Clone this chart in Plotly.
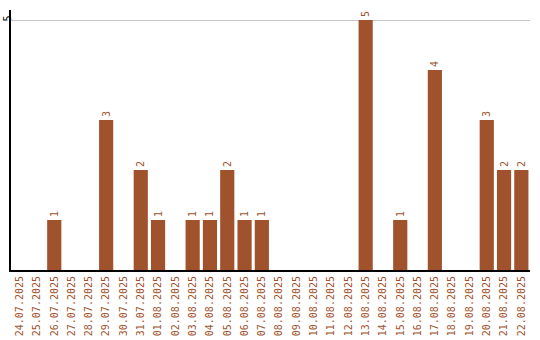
import plotly.graph_objects as go

dates = ["24.07.2025", "25.07.2025", "26.07.2025", "27.07.2025", "28.07.2025",
         "29.07.2025", "30.07.2025", "31.07.2025", "01.08.2025", "02.08.2025",
         "03.08.2025", "04.08.2025", "05.08.2025", "06.08.2025", "07.08.2025",
         "08.08.2025", "09.08.2025", "10.08.2025", "11.08.2025", "12.08.2025",
         "13.08.2025", "14.08.2025", "15.08.2025", "16.08.2025", "17.08.2025",
         "18.08.2025", "19.08.2025", "20.08.2025", "21.08.2025", "22.08.2025"]
counts = [0, 0, 1, 0, 0, 3, 0, 2, 1, 0,
          1, 1, 2, 1, 1, 0, 0, 0, 0, 0,
          5, 0, 1, 0, 4, 0, 0, 3, 2, 2]

color = "#A0522D"
font = "DejaVu Sans Mono"

fig = go.Figure(go.Bar(
    x=dates, y=counts,
    marker=dict(color=color, line=dict(width=0)),
    text=[str(c) if c else "" for c in counts],
    textposition="outside", textangle=-90,
    textfont=dict(family=font, size=10, color=color),
    cliponaxis=False,
))
fig.update_layout(
    width=540, height=340,
    margin=dict(l=11, r=10, t=10, b=70),
    paper_bgcolor="white", plot_bgcolor="white",
    bargap=0.18, showlegend=False,
    font=dict(family=font, size=10, color="black"),
)
fig.update_xaxes(
    type="category", tickangle=-90, showline=True, linecolor="black", linewidth=2,
    tickfont=dict(family=font, size=10, color=color), ticks="", showgrid=False,
    automargin=False, ticklabelstandoff=0,
)
fig.update_yaxes(
    range=[0, 5.2], tickvals=[5], ticktext=["5"], tickangle=-90,
    showline=True, linecolor="black", linewidth=2, showgrid=True, gridcolor="#c8c8c8",
    tickfont=dict(family=font, size=10, color="black"), ticks="", zeroline=False,
    automargin=False, ticklabelstandoff=-6,
)
fig.write_html("out.html")
